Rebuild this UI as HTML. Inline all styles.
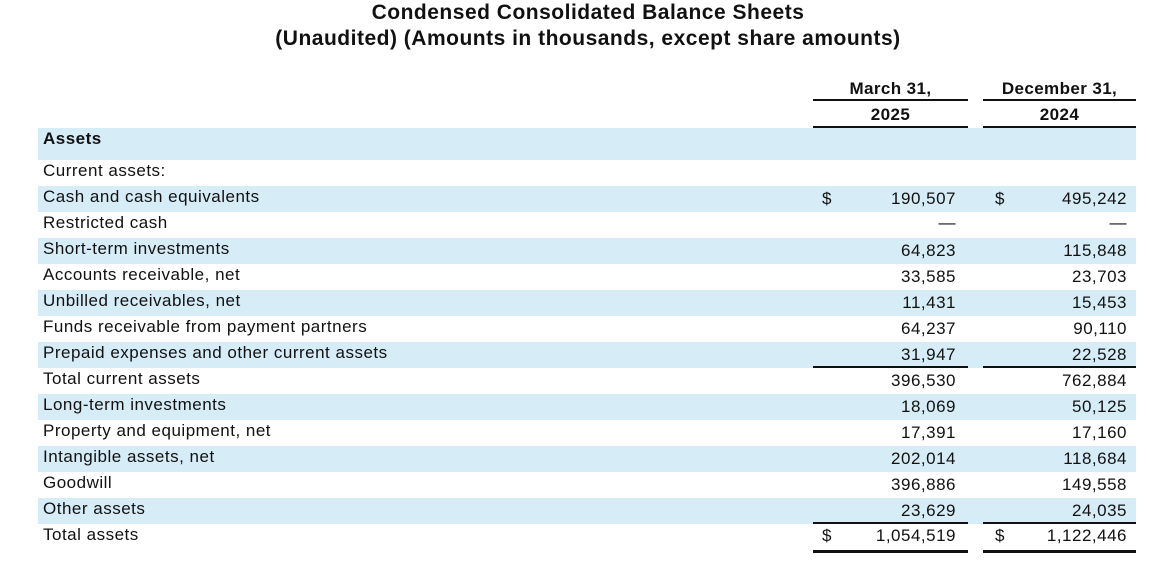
<!DOCTYPE html>
<html><head><meta charset="utf-8"><style>
body{margin:0;width:1176px;height:572px;background:#fff;position:relative;font-family:"Liberation Sans",Arial,sans-serif;color:#111;overflow:hidden}
.t{position:absolute;left:0;width:1176px;text-align:center;font-weight:bold;font-size:21px;letter-spacing:0.5px}
.band{position:absolute;left:38px;width:1098px;background:#d6edf8}
.r{position:absolute;left:43px;font-size:17px;letter-spacing:0.5px;line-height:26px;white-space:nowrap}
.n{position:absolute;font-size:17px;letter-spacing:0.5px;line-height:26px;text-align:right;width:150px}
.d{position:absolute;font-size:17px;line-height:26px}
.ln{position:absolute;height:1px;background:#111}
.h{position:absolute;font-size:17px;letter-spacing:0.4px;font-weight:bold;text-align:center}
</style></head><body>
<div class="t" style="top:1px">Condensed Consolidated Balance Sheets</div>
<div class="t" style="top:27px">(Unaudited) (Amounts in thousands, except share amounts)</div>

<div class="h" style="left:813px;width:155px;top:79px">March 31,</div>
<div class="h" style="left:983px;width:153px;top:79px">December 31,</div>
<div class="ln" style="left:813px;width:155px;top:99px;height:2px"></div>
<div class="ln" style="left:983px;width:153px;top:99px;height:2px"></div>
<div class="h" style="left:813px;width:155px;top:105px">2025</div>
<div class="h" style="left:983px;width:153px;top:105px">2024</div>
<div class="ln" style="left:813px;width:155px;top:126px;height:2px"></div>
<div class="ln" style="left:983px;width:153px;top:126px;height:2px"></div>

<div class="band" style="top:128px;height:32px"></div>
<div class="r" style="top:126px;font-weight:bold">Assets</div>

<div class="band" style="top:186px;height:26px"></div>
<div class="band" style="top:238px;height:26px"></div>
<div class="band" style="top:290px;height:26px"></div>
<div class="band" style="top:342px;height:26px"></div>
<div class="band" style="top:394px;height:26px"></div>
<div class="band" style="top:446px;height:26px"></div>
<div class="band" style="top:498px;height:26px"></div>

<div class="r" style="top:158px">Current assets:</div>
<div class="r" style="top:184px">Cash and cash equivalents</div>
<div class="r" style="top:210px">Restricted cash</div>
<div class="r" style="top:236px">Short-term investments</div>
<div class="r" style="top:262px">Accounts receivable, net</div>
<div class="r" style="top:288px">Unbilled receivables, net</div>
<div class="r" style="top:314px">Funds receivable from payment partners</div>
<div class="r" style="top:340px">Prepaid expenses and other current assets</div>
<div class="r" style="top:366px">Total current assets</div>
<div class="r" style="top:392px">Long-term investments</div>
<div class="r" style="top:418px">Property and equipment, net</div>
<div class="r" style="top:444px">Intangible assets, net</div>
<div class="r" style="top:470px">Goodwill</div>
<div class="r" style="top:496px">Other assets</div>
<div class="r" style="top:522px">Total assets</div>

<div class="d" style="left:822px;top:186px">$</div>
<div class="d" style="left:995px;top:186px">$</div>
<div class="d" style="left:822px;top:523px">$</div>
<div class="d" style="left:995px;top:523px">$</div>

<div class="n" style="left:806px;top:186px">190,507</div><div class="n" style="left:977px;top:186px">495,242</div>
<div class="n" style="left:806px;top:210px">—</div><div class="n" style="left:977px;top:210px">—</div>
<div class="n" style="left:806px;top:238px">64,823</div><div class="n" style="left:977px;top:238px">115,848</div>
<div class="n" style="left:806px;top:264px">33,585</div><div class="n" style="left:977px;top:264px">23,703</div>
<div class="n" style="left:806px;top:290px">11,431</div><div class="n" style="left:977px;top:290px">15,453</div>
<div class="n" style="left:806px;top:316px">64,237</div><div class="n" style="left:977px;top:316px">90,110</div>
<div class="n" style="left:806px;top:342px">31,947</div><div class="n" style="left:977px;top:342px">22,528</div>
<div class="n" style="left:806px;top:368px">396,530</div><div class="n" style="left:977px;top:368px">762,884</div>
<div class="n" style="left:806px;top:394px">18,069</div><div class="n" style="left:977px;top:394px">50,125</div>
<div class="n" style="left:806px;top:420px">17,391</div><div class="n" style="left:977px;top:420px">17,160</div>
<div class="n" style="left:806px;top:446px">202,014</div><div class="n" style="left:977px;top:446px">118,684</div>
<div class="n" style="left:806px;top:472px">396,886</div><div class="n" style="left:977px;top:472px">149,558</div>
<div class="n" style="left:806px;top:498px">23,629</div><div class="n" style="left:977px;top:498px">24,035</div>
<div class="n" style="left:806px;top:523px">1,054,519</div><div class="n" style="left:977px;top:523px">1,122,446</div>

<div class="ln" style="left:813px;width:155px;top:366px;height:2px"></div>
<div class="ln" style="left:983px;width:153px;top:366px;height:2px"></div>
<div class="ln" style="left:813px;width:155px;top:522px;height:2px"></div>
<div class="ln" style="left:983px;width:153px;top:522px;height:2px"></div>
<div class="ln" style="left:813px;width:155px;top:550px;height:3px"></div>
<div class="ln" style="left:983px;width:153px;top:550px;height:3px"></div>
</body></html>
